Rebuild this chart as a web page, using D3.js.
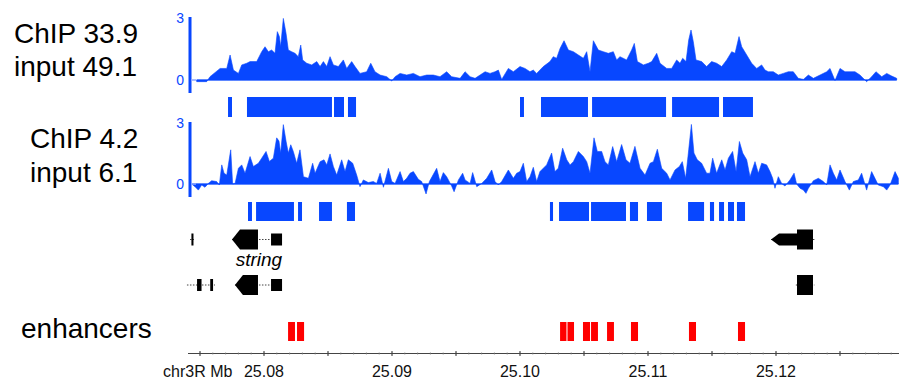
<!DOCTYPE html>
<html><head><meta charset="utf-8">
<script src="https://cdn.jsdelivr.net/npm/d3@7/dist/d3.min.js"></script>
<style>body{margin:0;background:#fff}svg{display:block;font-family:"Liberation Sans",Arial,sans-serif}</style>
</head><body><svg id="c" width="899" height="381"></svg>
<script>
// Genomic positions in kb relative to chr3R:25,000,000
const viewRange = [74.0625, 129.609];
const axisLabelKb = [80, 90, 100, 110, 120];
const majorTickKb = [75, 80, 85, 90, 95, 100, 105, 110, 115, 120, 125];
const signalTicks = [0, 3];
const labels1 = ["ChIP 33.9", "input 49.1"];
const labels2 = ["ChIP 4.2", "input 6.1"];
const enhancerLabel = "enhancers";
const axisName = "chr3R Mb";
const geneName = "string";
const geneNameKb = 79.6;

// ChIP signal track 1 [kb, value]
const chip1 = [[74.74,-0.08],[75.52,-0.08],[75.78,0.16],[76.57,0.56],[77.09,0.56],[77.35,1.21],[77.61,0.48],[78.00,0.32],[78.26,0.73],[78.65,0.81],[78.91,0.89],[79.43,0.89],[79.82,1.37],[80.08,1.61],[80.34,1.37],[80.60,1.45],[80.86,1.29],[81.04,2.34],[81.20,2.10],[81.30,1.61],[81.51,2.98],[81.72,2.26],[81.90,1.45],[82.16,1.37],[82.42,1.29],[82.68,1.13],[82.87,1.69],[83.02,0.97],[83.34,0.81],[83.73,0.73],[84.12,0.89],[84.38,0.65],[84.64,0.89],[84.90,0.65],[85.16,1.13],[85.42,0.73],[85.81,0.65],[86.20,0.97],[86.46,0.56],[86.85,0.89],[87.11,0.65],[87.50,0.32],[88.02,0.40],[88.34,0.81],[88.67,0.40],[89.07,0.24],[89.59,0.16],[89.98,-0.05],[90.24,0.16],[90.63,0.32],[91.15,0.24],[91.67,0.32],[92.19,0.16],[92.71,0.24],[93.23,0.24],[93.75,0.16],[94.27,0.40],[94.66,0.16],[95.32,0.08],[95.71,0.40],[96.10,0.16],[96.49,0.08],[96.88,0.24],[97.27,0.40],[97.66,0.32],[98.05,0.40],[98.31,0.48],[98.57,0.03],[99.09,0.56],[99.48,0.40],[100.00,0.65],
[100.39,0.56],[100.78,0.40],[101.04,0.48],[101.30,0.32],[101.82,0.65],[102.34,0.89],[102.60,1.13],[102.86,1.05],[103.13,1.53],[103.44,1.90],[103.78,1.45],[104.17,1.37],[104.56,1.21],[104.95,1.05],[105.21,1.37],[105.47,0.40],[105.73,1.90],[106.12,1.45],[106.51,1.37],[106.90,1.29],[107.29,1.37],[107.55,0.97],[107.81,1.13],[108.33,0.97],[108.72,1.45],[108.93,1.77],[109.17,0.89],[109.64,0.73],[110.03,0.81],[110.29,0.89],[110.68,1.29],[110.94,0.81],[111.46,0.56],[111.85,0.56],[112.24,0.97],[112.50,0.81],[112.71,1.05],[112.97,0.89],[113.18,1.94],[113.36,2.42],[113.54,1.85],[113.75,0.97],[114.19,0.89],[114.58,0.65],[114.97,0.89],[115.36,0.81],[115.76,0.65],[116.15,0.97],[116.54,1.37],[116.80,1.29],[117.11,2.10],[117.32,1.61],[117.71,1.21],[118.10,0.81],[118.49,0.56],[118.88,0.73],[119.14,0.48],[119.40,0.40],[119.79,0.40],[120.18,0.24],[120.57,0.32],[120.96,0.40],[121.35,0.40],[121.74,0.08],[122.14,0.03],[122.53,0.24],[122.92,0.08],[123.44,0.24],[123.96,0.40],[124.22,0.56],[124.61,-0.03],[125.00,0.56],[125.39,0.40],[125.78,0.40],[126.17,0.40],[126.56,0.24],[127.08,-0.08],[127.47,0.16],[127.81,0.40],[128.26,0.16],[128.65,0.32],[129.04,0.19],[129.43,0.08]];

// ChIP signal track 2 [kb, value]
const chip2 = [[74.35,0],[74.61,-0.13],[74.87,-0.30],[75.13,-0.05],[75.39,-0.16],[75.65,0.03],[75.91,0.16],[76.30,0.12],[76.51,-0.05],[76.70,0.94],[76.88,0.53],[77.09,0.44],[77.40,1.68],[77.55,0],[77.74,0.03],[78.00,0.77],[78.26,0.94],[78.52,0.53],[78.91,1.35],[79.17,0.86],[79.56,1.02],[79.82,1.27],[80.16,1.60],[80.42,1.11],[80.73,1.27],[80.99,2.27],[81.17,2.11],[81.30,1.52],[81.51,2.92],[81.72,2.11],[81.90,1.52],[82.09,1.93],[82.29,1.60],[82.55,1.02],[82.81,1.68],[83.08,0.36],[83.47,0.28],[83.80,1.02],[83.99,0.53],[84.38,1.10],[84.69,1.19],[84.90,0.94],[85.16,1.48],[85.42,0.86],[85.68,0.44],[86.07,1.19],[86.33,0.61],[86.59,1.19],[86.93,1.02],[87.24,0.44],[87.50,-0.13],[87.76,0.20],[88.15,0.07],[88.54,0.12],[88.80,0.03],[89.07,0.53],[89.33,-0.16],[89.72,0.77],[89.98,0.12],[90.24,0.03],[90.63,0.61],[90.89,0.12],[91.15,0.28],[91.41,0.53],[91.67,0.61],[92.06,0.23],[92.32,0.12],[92.66,-0.49],[92.92,0.12],[93.49,0.77],[93.75,0.12],[94.01,0.56],[94.27,0.36],[94.66,-0.10],[94.85,-0.38],[95.19,0.20],[95.52,0.53],[95.71,0.20],[96.10,0.03],[96.30,0.56],[96.62,-0.13],[97.01,0.03],[97.40,0.28],[97.79,0.69],[98.05,0.12],[98.31,-0.05],[98.57,0.12],[99.09,0.69],[99.48,0.28],[99.74,0.53],
[100.00,0.61],[100.26,1.02],[100.52,0.12],[100.78,0.36],[101.04,0.82],[101.30,0.12],[101.56,0.61],[102.08,0.94],[102.47,1.52],[102.73,0.61],[102.99,0.77],[103.33,1.76],[103.65,1.19],[103.91,0.94],[104.17,1.10],[104.56,1.60],[104.95,1.35],[105.21,1.10],[105.47,0.53],[105.78,2.27],[106.04,1.60],[106.38,1.60],[106.64,1.10],[106.90,0.94],[107.24,1.84],[107.55,1.10],[107.94,1.94],[108.28,1.19],[108.59,1.02],[108.98,1.85],[109.38,0.77],[109.77,0.44],[110.16,1.02],[110.42,1.10],[110.73,1.71],[111.07,0.77],[111.46,0.53],[111.72,0.20],[112.11,0.69],[112.45,0.86],[112.68,1.10],[112.94,0.28],[113.18,1.68],[113.39,2.93],[113.59,1.52],[113.85,1.19],[114.19,1.02],[114.58,0.53],[114.84,0.53],[115.05,1.27],[115.36,0.53],[115.76,1.19],[116.02,0.69],[116.28,1.27],[116.61,1.60],[116.88,0.61],[117.14,2.09],[117.40,1.52],[117.71,1.19],[117.97,0.36],[118.36,1.10],[118.62,0.53],[118.88,1.02],[119.27,0.94],[119.53,0.61],[119.74,0.28],[119.92,-0.21],[120.18,0.36],[120.44,0.03],[120.70,-0.10],[121.09,0.20],[121.41,0.53],[121.61,0],[121.88,-0.21],[122.14,-0.30],[122.34,-0.46],[122.53,-0.21],[122.92,0.16],[123.31,0.28],[123.70,0.12],[123.96,-0.05],[124.22,0.94],[124.48,0.53],[124.74,0.20],[125.00,0.69],[125.39,0.12],[125.73,-0.30],[126.04,0.12],[126.43,0.20],[126.69,0.53],[127.08,-0.30],[127.47,0.61],[127.73,0.28],[127.99,-0.05],[128.39,-0.13],[128.65,-0.30],[128.91,-0.05],[129.30,0.61],[129.56,0.28]];

// Peak calls [start kb, end kb]
const peaks1 = [[77.19,77.50],[78.67,85.31],[85.47,86.25],[86.56,87.19],[100.0,100.31],[101.64,105.31],[105.63,111.41],[111.88,115.55],[115.86,118.20]];
const peaks2 = [[78.75,79.06],[79.38,82.34],[82.66,82.97],[84.30,85.31],[86.48,87.11],[102.34,102.58],[103.05,105.39],[105.55,108.28],[108.59,109.22],[109.92,111.09],[113.13,114.38],[114.84,115.16],[115.55,115.94],[116.25,116.72],[116.95,117.58]];

// Enhancers [start kb, end kb]
const enhancers = [[81.88,82.42],[82.58,83.13],[103.13,103.63],[103.71,104.22],[104.92,105.47],[105.55,106.09],[106.80,107.34],[108.67,109.22],[113.20,113.75],[117.03,117.58]];

// Transcript models: row, span [start,end], exons [start,end,type], arrow = leftward pointed first exon
const transcripts = [
  {row:0, span:[74.22,74.53], exons:[[74.33,74.49,"utr"]], arrow:false},
  {row:0, span:[77.50,81.41], exons:[[77.50,79.53,"cds"],[80.55,81.41,"utr"]], arrow:true},
  {row:0, span:[119.61,123.00], exons:[[119.61,121.64,"utr"],[121.64,122.89,"cds"]], arrow:true},
  {row:1, span:[73.98,76.17], exons:[[74.77,75.12,"utr"],[75.80,76.02,"utr"]], arrow:false},
  {row:1, span:[77.73,81.41], exons:[[77.73,79.53,"cds"],[80.55,81.41,"utr"]], arrow:true},
  {row:1, span:[121.55,123.00], exons:[[121.64,122.89,"cds"]], arrow:false}
];

const blue = "#0847ff";
const svg = d3.select("#c");
const x = d3.scaleLinear().domain(viewRange).range([188, 899]);

// Left labels
function labelBlock(lines, x0, ys){
  lines.forEach((t,i)=>svg.append("text").attr("x",x0).attr("y",ys[i]).attr("font-size",28).attr("fill","#000").text(t));
}
labelBlock(labels1, 14, [43, 76]);
labelBlock(labels2, 30, [148, 182]);
svg.append("text").attr("x",21).attr("y",338).attr("font-size",28).attr("fill","#000").text(enhancerLabel);

// Signal tracks
function signalTrack(data, y0px, y3px, barTop, barBot){
  const y = d3.scaleLinear().domain([0,3]).range([y0px, y3px]);
  const area = d3.area().x(d=>x(d[0])).y0(y(0)).y1(d=>y(d[1]));
  svg.append("path").datum(data).attr("d", area).attr("fill", blue).attr("stroke", blue).attr("stroke-width",0.6);
  svg.append("line").attr("x1", x(data[0][0])).attr("x2", x(data[data.length-1][0])).attr("y1", y(0)).attr("y2", y(0)).attr("stroke", blue).attr("stroke-width",1.2);
  svg.append("rect").attr("x",188.5).attr("width",3).attr("y",barTop).attr("height",barBot-barTop).attr("fill",blue);
  signalTicks.forEach(v=>{
    svg.append("text").attr("x",184).attr("y",y(v)+5).attr("text-anchor","end").attr("font-size",14).attr("fill",blue).text(v);
  });
  svg.append("line").attr("x1",191).attr("x2",196).attr("y1",y(0)).attr("y2",y(0)).attr("stroke","#8fa8ff").attr("stroke-width",1.5);
}
signalTrack(chip1, 80, 18, 17, 93);
signalTrack(chip2, 184, 123, 122, 197);

// Peaks
function blocks(data, top, h, color){
  svg.append("g").selectAll("rect").data(data).join("rect")
    .attr("x", d=>x(d[0])).attr("width", d=>x(d[1])-x(d[0]))
    .attr("y", top).attr("height", h).attr("fill", color);
}
blocks(peaks1, 97, 20, blue);
blocks(peaks2, 202, 19, blue);
blocks(enhancers, 322, 19, "#ff0000");

// Genes
const rowY = [239.5, 285];
const hCds = 20, hUtr = 12;
const gG = svg.append("g");
transcripts.forEach(t=>{
  const cy = rowY[t.row];
  gG.append("line").attr("x1", x(t.span[0])).attr("x2", x(t.span[1])).attr("y1", cy).attr("y2", cy)
    .attr("stroke","#444").attr("stroke-width",1).attr("stroke-dasharray","1.5,1.5");
  t.exons.forEach((e,i)=>{
    const h = e[2]==="cds" ? hCds : hUtr;
    const x0 = x(e[0]), x1 = x(e[1]);
    if (t.arrow && i===0){
      const p = 8;
      gG.append("path").attr("d", `M${x0},${cy} L${x0+p},${cy-h/2} L${x1},${cy-h/2} L${x1},${cy+h/2} L${x0+p},${cy+h/2} Z`).attr("fill","#000");
    } else {
      gG.append("rect").attr("x", x0).attr("width", x1-x0).attr("y", cy-h/2).attr("height", h).attr("fill","#000");
    }
  });
});
svg.append("text").attr("x", x(geneNameKb)).attr("y", 266).attr("text-anchor","middle").attr("font-size",19).attr("font-style","italic").attr("fill","#000").text(geneName);

// Genomic axis
const axY = 353.5;
svg.append("line").attr("x1", x.range()[0]).attr("x2", x.range()[1]).attr("y1", axY).attr("y2", axY).attr("stroke","#444").attr("stroke-width",1);
const minor = d3.range(Math.ceil(viewRange[0]), Math.floor(viewRange[1])+1, 1);
svg.append("g").selectAll("line").data(minor).join("line")
  .attr("x1", d=>x(d)).attr("x2", d=>x(d)).attr("y1", axY-1).attr("y2", axY+1).attr("stroke","#777").attr("stroke-width",0.8);
svg.append("g").selectAll("line").data(majorTickKb).join("line")
  .attr("x1", d=>x(d)).attr("x2", d=>x(d)).attr("y1", axY-2.5).attr("y2", axY+2.5).attr("stroke","#333").attr("stroke-width",1);
svg.append("g").selectAll("text").data(axisLabelKb).join("text")
  .attr("x", d=>x(d)).attr("y", 377).attr("text-anchor","middle").attr("font-size",16).attr("fill","#111")
  .text(d=>((25000+d)/1000).toFixed(2));
svg.append("text").attr("x",163).attr("y",377).attr("font-size",16).attr("fill","#111").text(axisName);
</script></body></html>
